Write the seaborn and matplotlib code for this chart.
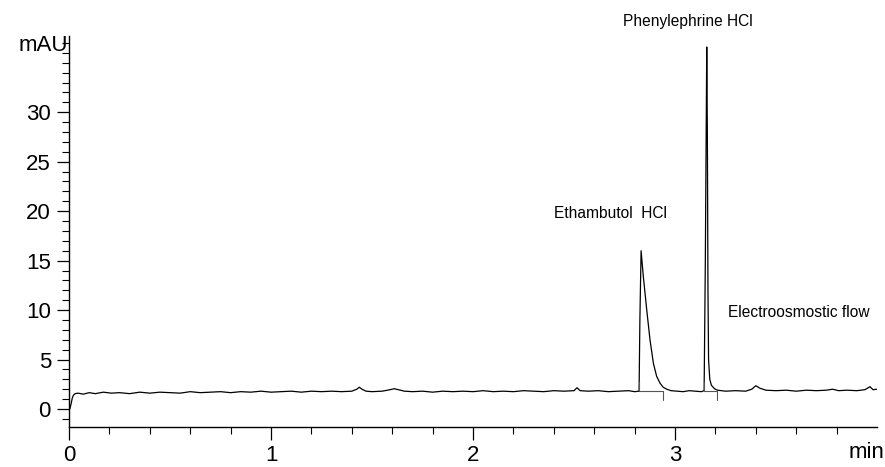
import matplotlib
matplotlib.use('Agg')
import matplotlib.pyplot as plt
import numpy as np
import pandas as pd
import seaborn as sns
from matplotlib.ticker import MultipleLocator, FixedLocator

sns.set_style('ticks')
plt.rcParams['font.family'] = ['Liberation Sans', 'DejaVu Sans']
plt.rcParams['text.color'] = 'black'
plt.rcParams['xtick.color'] = 'black'
plt.rcParams['ytick.color'] = 'black'
plt.rcParams['axes.edgecolor'] = 'black'

# electropherogram trace (time in min, signal in mAU)
time_min = [0.000, 0.004, 0.010, 0.016, 0.022, 0.030, 0.045, 0.07, 0.10, 0.13,
            0.17, 0.21, 0.25, 0.30, 0.35, 0.40, 0.45, 0.50, 0.55, 0.60,
            0.65, 0.70, 0.75, 0.80, 0.85, 0.90, 0.95, 1.00, 1.05, 1.10,
            1.15, 1.20, 1.25, 1.30, 1.35, 1.40, 1.425, 1.437, 1.45, 1.47,
            1.50, 1.55, 1.59, 1.61, 1.63, 1.66, 1.70, 1.75, 1.80, 1.85,
            1.90, 1.95, 2.00, 2.05, 2.10, 2.15, 2.20, 2.25, 2.30, 2.35,
            2.40, 2.45, 2.50, 2.515, 2.53, 2.57, 2.62, 2.67, 2.72, 2.77,
            2.80, 2.822, 2.826, 2.832, 2.843, 2.860, 2.876, 2.893, 2.909, 2.926,
            2.941, 2.959, 2.98, 3.01, 3.04, 3.07, 3.10, 3.13, 3.144, 3.150,
            3.157, 3.160, 3.163, 3.166, 3.172, 3.180, 3.195, 3.21, 3.25, 3.30,
            3.35, 3.38, 3.40, 3.42, 3.45, 3.50, 3.55, 3.60, 3.65, 3.70,
            3.75, 3.78, 3.81, 3.85, 3.90, 3.94, 3.965, 3.98, 4.00]
signal_mau = [-0.05, 0.0, 0.5, 1.1, 1.4, 1.55, 1.6, 1.5, 1.65, 1.55,
              1.7, 1.6, 1.65, 1.55, 1.7, 1.6, 1.7, 1.65, 1.6, 1.75,
              1.65, 1.7, 1.75, 1.65, 1.75, 1.7, 1.8, 1.7, 1.75, 1.8,
              1.7, 1.8, 1.75, 1.8, 1.75, 1.8, 2.0, 2.2, 2.0, 1.8,
              1.75, 1.8, 1.95, 2.05, 1.95, 1.8, 1.75, 1.8, 1.7, 1.8,
              1.75, 1.8, 1.75, 1.85, 1.75, 1.8, 1.75, 1.85, 1.8, 1.75,
              1.85, 1.8, 1.85, 2.15, 1.85, 1.8, 1.85, 1.75, 1.8, 1.85,
              1.75, 1.8, 9.0, 16.0, 13.4, 10.0, 7.0, 4.6, 3.3, 2.6,
              2.2, 2.0, 1.85, 1.8, 1.75, 1.85, 1.8, 1.75, 1.85, 15.0,
              36.6, 28.0, 12.0, 5.0, 3.0, 2.4, 2.05, 1.9, 1.8, 1.85,
              1.8, 2.0, 2.35, 2.1, 1.9, 1.85, 1.9, 1.8, 1.9, 1.85,
              1.9, 2.0, 1.85, 1.9, 1.85, 1.95, 2.25, 1.95, 2.0]

# integration baselines of the two peaks
peak_start = [2.822, 3.144]
peak_end = [2.941, 3.21]
peak_base = [1.8, 1.85]

peak_names = ['Ethambutol  HCl', 'Phenylephrine HCl', 'Electroosmostic flow']
label_x = [2.68, 3.065, 3.26]
label_y = [19.8, 39.2, 9.8]
label_ha = ['center', 'center', 'left']

df = pd.DataFrame({'t': time_min, 'mAU': signal_mau})

fig = plt.figure(figsize=(8.85, 4.67), dpi=100)
ax = fig.add_axes([0.078, 0.0857, 0.913, 0.837])

sns.lineplot(data=df, x='t', y='mAU', sort=False, estimator=None,
             color='black', linewidth=0.9, ax=ax)

for s, e, b in zip(peak_start, peak_end, peak_base):
    ax.plot([s, e], [b, b], color='#555555', linewidth=0.8)
    ax.plot([s, s], [b, b + 0.9], color='#555555', linewidth=0.8)
    ax.plot([e, e], [b, b - 0.9], color='#555555', linewidth=0.8)

for name, x, y, ha in zip(peak_names, label_x, label_y, label_ha):
    ax.text(x, y, name, ha=ha, va='center', fontsize=11.2, clip_on=False)

ax.set_xlim(0, 4.0)
ax.set_ylim(-1.82, 37.7)
sns.despine(ax=ax)
ax.spines['left'].set_linewidth(1.0)
ax.spines['bottom'].set_linewidth(1.0)

ax.xaxis.set_major_locator(FixedLocator([0, 1, 2, 3]))
ax.xaxis.set_minor_locator(FixedLocator(np.arange(0.2, 3.9, 0.2)))
ax.yaxis.set_major_locator(FixedLocator([0, 5, 10, 15, 20, 25, 30]))
ax.yaxis.set_minor_locator(MultipleLocator(1))
ax.tick_params(axis='both', which='major', length=9, width=0.9)
ax.tick_params(axis='both', which='minor', length=5, width=0.8)
ax.tick_params(axis='x', which='major', pad=4)
ax.tick_params(axis='y', which='major', pad=4)

for lab in ax.get_xticklabels() + ax.get_yticklabels():
    lab.set_fontsize(16)

ax.set_xlabel('')
ax.set_ylabel('')
ax.annotate('mAU', xy=(0, 36.8), xycoords=('axes fraction', 'data'),
            xytext=(-1, 0), textcoords='offset points',
            ha='right', va='center', fontsize=16)
ax.annotate('min', xy=(3.95, 0), xycoords=('data', 'axes fraction'),
            xytext=(0, -10.5), textcoords='offset points',
            ha='center', va='top', fontsize=16)

fig.savefig('out.png', dpi=100)
